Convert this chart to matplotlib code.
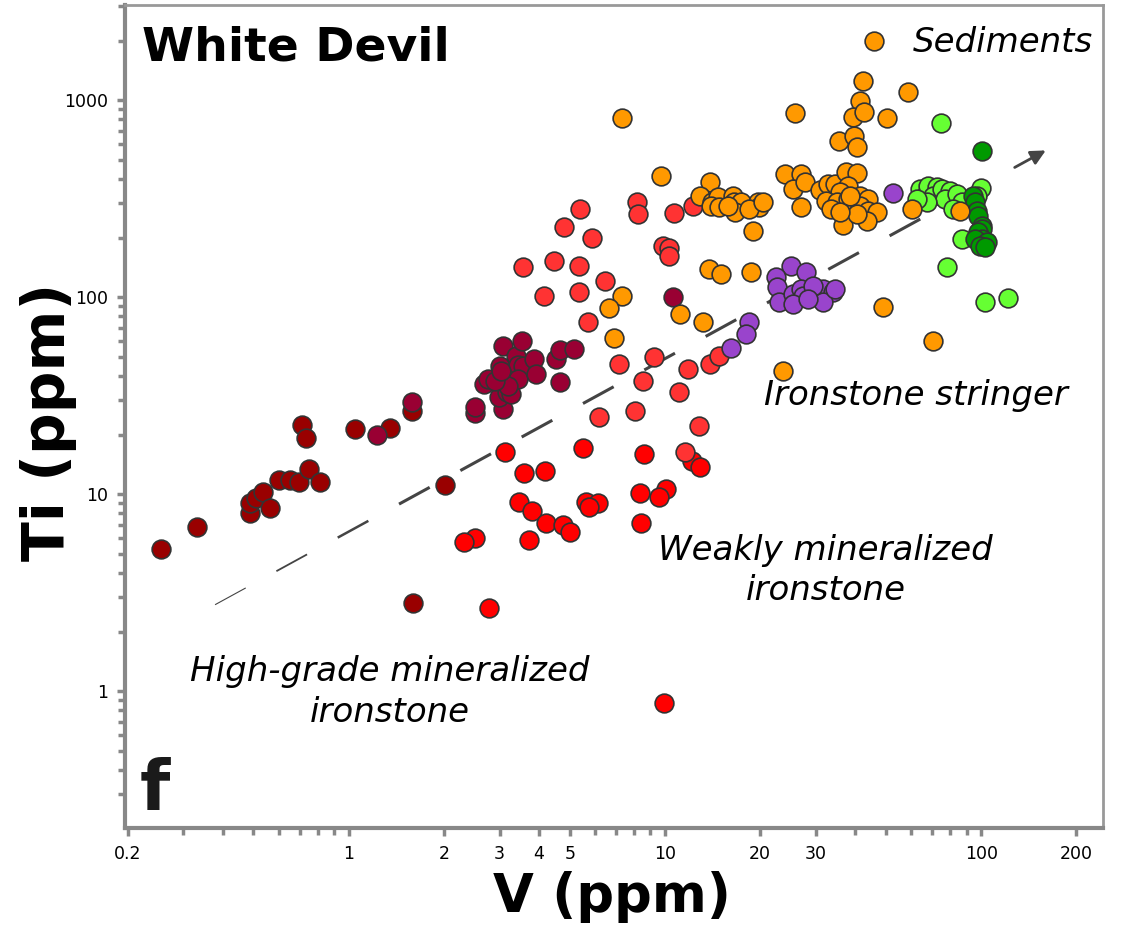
import numpy as np
import matplotlib
matplotlib.use("Agg")
import matplotlib.pyplot as plt
from matplotlib.collections import LineCollection

# ---- data (V ppm, Ti ppm) ----
darkred_v = [0.255, 0.331, 0.487, 0.487, 0.509, 0.536, 0.563, 0.601, 0.652, 0.695, 0.748, 0.810,
             0.711, 0.732, 1.045, 1.35, 1.58, 1.60, 2.02]
darkred_ti = [5.30, 6.86, 8.08, 9.08, 9.63, 10.3, 8.47, 11.75, 11.75, 11.6, 13.4, 11.5,
              22.4, 19.4, 21.4, 21.6, 26.4, 2.79, 11.2]

crimson_v = [1.23, 1.59, 2.50, 2.50, 2.67, 2.76, 3.08, 3.08, 3.02, 2.99, 3.17, 3.27, 3.39, 3.44,
             3.54, 3.56, 3.44, 3.86, 3.92, 4.53, 4.67, 4.67, 5.16, 3.20, 2.91, 3.04, 10.6]
crimson_ti = [19.9, 29.3, 26.0, 27.9, 36.1, 38.4, 56.4, 27.0, 44.6, 31.1, 32.9, 32.2, 50.1, 45.6,
              59.7, 44.6, 38.4, 48.5, 40.6, 48.4, 53.8, 37.0, 54.5, 35.3, 37.4, 42.1, 100]

red_v = [3.11, 3.59, 4.18, 5.51, 3.46, 3.80, 4.21, 4.77, 5.01, 5.63, 6.15, 5.75, 8.59, 8.34,
         10.1, 9.57, 8.40, 12.2, 12.9, 2.50, 2.32, 3.72, 2.78, 9.93]
red_ti = [16.3, 12.8, 13.2, 17.1, 9.19, 8.18, 7.11, 7.02, 6.40, 9.19, 9.08, 8.57, 16.1, 10.2,
          10.6, 9.74, 7.11, 14.7, 13.7, 6.03, 5.75, 5.89, 2.66, 0.875]

lightred_v = [5.39, 4.80, 5.89, 3.56, 4.47, 5.35, 6.47, 4.15, 5.35, 5.71, 8.16, 8.22, 10.7, 12.3,
              9.86, 10.3, 10.3, 7.17, 9.23, 8.53, 6.19, 8.04, 11.1, 11.8, 13.9, 14.8, 12.8, 11.6]
lightred_ti = [281, 227, 200, 142, 153, 144, 121, 101, 107, 74.6, 304, 264, 268, 290,
               182, 178, 162, 45.7, 49.6, 37.4, 24.6, 26.4, 32.9, 43.1, 45.7, 50.1, 22.1, 16.3]

purple_v = [18.5, 18.1, 16.2, 25.0, 28.0, 22.4, 22.7, 22.9, 25.5, 26.9, 27.4, 29.3, 31.7, 33.9,
            31.7, 25.5, 29.5, 28.3, 52.8, 34.6]
purple_ti = [75.2, 65.3, 55.4, 144, 134, 127, 113, 94.4, 104, 110, 101, 104, 110, 107,
             94.4, 92.2, 114, 97.8, 338, 110]

lightgreen_v = [74.8, 64.2, 66.6, 68.1, 72.6, 70.6, 75.3, 79.8, 77.0, 84.0, 87.1, 81.6, 100,
                67.6, 62.8, 87.1, 78.1, 103, 122, 97.1]
lightgreen_ti = [767, 355, 327, 367, 363, 327, 355, 347, 315, 334, 304, 281, 359,
                 304, 315, 197, 142, 94.4, 98.9, 327]

darkgreen_v = [101, 94.3, 95.7, 97.1, 97.9, 101, 101, 97.9, 101, 95.7, 104, 99.3, 103]
darkgreen_ti = [553, 327, 304, 274, 258, 230, 222, 214, 197, 197, 191, 182, 180]

orange_v = [7.31, 9.71, 13.9, 12.9, 14.1, 14.7, 16.4, 16.5, 17.4, 16.7, 19.7, 19.8, 19.0, 14.0,
            14.8, 15.8, 18.4, 25.7, 7.31, 6.66, 6.90, 11.2, 13.2, 13.8, 15.0, 18.7, 45.9, 42.2,
            58.8, 41.5, 39.2, 42.7, 50.5, 35.6, 39.5, 40.4, 23.9, 26.9, 25.4, 27.8, 31.0, 32.7,
            34.4, 37.5, 40.4, 38.0, 35.9, 32.2, 35.1, 38.0, 41.5, 44.0, 41.5, 44.0, 47.0, 43.7,
            36.7, 27.0, 60.6, 85.9, 49.1, 70.6, 20.4, 33.6, 40.6, 35.9, 23.7, 38.6]
orange_ti = [813, 413, 385, 327, 304, 323, 327, 304, 304, 271, 304, 287, 217, 290,
             287, 290, 281, 863, 101, 87.9, 62.0, 82.1, 74.7, 139, 131, 134, 2005, 1254,
             1101, 994, 824, 874, 813, 621, 659, 580, 422, 422, 354, 385, 351, 376,
             376, 433, 428, 367, 342, 308, 304, 315, 327, 315, 290, 274, 271, 244,
             233, 287, 281, 274, 89.1, 59.8, 304, 281, 265, 271, 42.5, 327]

trend_v = [0.378, 163]
trend_ti = [2.75, 566]

x_ticks = [0.2, 1, 2, 3, 4, 5, 10, 20, 30, 100, 200]
y_ticks = [1, 10, 100, 1000]

# ---- figure ----
fig = plt.figure(figsize=(11.25, 9.31), dpi=100)
ax = fig.add_axes([0.111, 0.1106, 0.869, 0.884])
ax.set_xscale("log")
ax.set_yscale("log")
ax.set_xlim(0.196, 242)
ax.set_ylim(0.202, 3050)

groups = [
    (darkred_v, darkred_ti, "#990000"),
    (crimson_v, crimson_ti, "#990033"),
    (red_v, red_ti, "#ff0000"),
    (lightred_v, lightred_ti, "#ff3333"),
    (purple_v, purple_ti, "#9944cc"),
    (lightgreen_v, lightgreen_ti, "#66ff33"),
    (darkgreen_v, darkgreen_ti, "#009900"),
    (orange_v, orange_ti, "#ff9900"),
]
for i, (v, t, c) in enumerate(groups):
    ax.scatter(v, t, s=182, c=c, edgecolors="#333333", linewidths=1.2, zorder=3 + i * 0.01)

# trend line: tapered dashes + arrow
lx0, lx1 = np.log10(trend_v)
ly0, ly1 = np.log10(trend_ti)
period, dash = 0.0736, 0.0368
segs, widths = [], []
k = 0
while k * period + dash < 0.955:
    t0, t1 = k * period, k * period + dash
    p0 = (10 ** (lx0 + t0 * (lx1 - lx0)), 10 ** (ly0 + t0 * (ly1 - ly0)))
    p1 = (10 ** (lx0 + t1 * (lx1 - lx0)), 10 ** (ly0 + t1 * (ly1 - ly0)))
    segs.append([p0, p1])
    widths.append(min(0.8 + k * 0.5, 2.2))
    k += 1
ax.add_collection(LineCollection(segs, colors="#444444", linewidths=widths, zorder=2))
ts = k * period
ax.annotate("", xy=(trend_v[1], trend_ti[1]),
            xytext=(10 ** (lx0 + ts * (lx1 - lx0)), 10 ** (ly0 + ts * (ly1 - ly0))),
            arrowprops=dict(arrowstyle="-|>", color="#444444", lw=2.0, mutation_scale=22),
            zorder=2)

# spines and ticks
for side in ["left", "bottom"]:
    ax.spines[side].set_color("#888888")
    ax.spines[side].set_linewidth(3)
for side in ["top", "right"]:
    ax.spines[side].set_color("#999999")
    ax.spines[side].set_linewidth(2)

ax.set_xticks(x_ticks)
ax.set_xticklabels([("%g" % v) for v in x_ticks])
ax.set_xticks([m * 10.0 ** e for e in range(-1, 3) for m in range(2, 10)
               if 0.196 <= m * 10.0 ** e <= 242], minor=True)
ax.xaxis.set_minor_formatter(plt.NullFormatter())
ax.set_yticks(y_ticks)
ax.set_yticklabels([str(v) for v in y_ticks])
ax.set_yticks([m * 10.0 ** e for e in range(-1, 4) for m in range(2, 10)
               if 0.202 <= m * 10.0 ** e <= 3050], minor=True)
ax.yaxis.set_minor_formatter(plt.NullFormatter())
ax.tick_params(which="both", direction="out", color="#888888", width=2.5, length=5,
               labelsize=12.5, labelcolor="black", pad=6)
ax.tick_params(which="major", length=6)

# texts
ax.text(0.018, 0.948, "White Devil", transform=ax.transAxes, fontsize=34,
        fontweight="bold", va="center", ha="left")
ax.text(0.99, 0.954, "Sediments", transform=ax.transAxes, fontsize=24.5,
        style="italic", va="center", ha="right")
ax.text(0.809, 0.526, "Ironstone stringer", transform=ax.transAxes, fontsize=24.5,
        style="italic", va="center", ha="center")
ax.text(0.717, 0.313, "Weakly mineralized\nironstone", transform=ax.transAxes,
        fontsize=24.5, style="italic", va="center", ha="center", linespacing=1.3)
ax.text(0.271, 0.165, "High-grade mineralized\nironstone", transform=ax.transAxes,
        fontsize=24.5, style="italic", va="center", ha="center", linespacing=1.3)
ax.text(0.015, 0.022, "f", transform=ax.transAxes, fontsize=50,
        fontweight="bold", va="baseline", ha="left", color="#1a1a1a")

fig.text(0.544, 0.036, "V (ppm)", fontsize=38, fontweight="bold", ha="center", va="center")
fig.text(0.043, 0.547, "Ti (ppm)", fontsize=42, fontweight="bold", ha="center",
         va="center", rotation=90)

fig.savefig("out.png", dpi=100)
